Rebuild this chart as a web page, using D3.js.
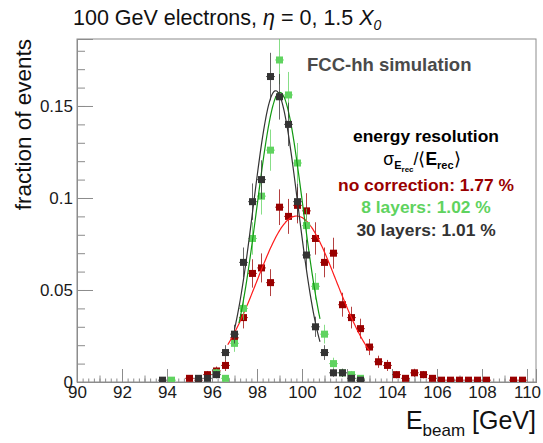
<!DOCTYPE html>
<html>
<head>
<meta charset="utf-8">
<script src="https://cdn.jsdelivr.net/npm/d3@7"></script>
<style>
  html, body { margin: 0; padding: 0; background: #fff; }
  svg { display: block; font-family: "Liberation Sans", Arial, Helvetica, sans-serif; }
</style>
</head>
<body>
<div id="chart"></div>
<script>
// Reconstructed energy distributions, 100 GeV electrons

// no correction
const noCorrE = [95.0, 95.4, 95.8, 96.2, 96.6, 97.0, 97.4, 97.8, 98.2, 98.6, 99.0, 99.4, 99.8, 100.2, 100.6, 101.0, 101.4, 101.8,
    102.2, 102.6, 103.0, 103.4, 103.8, 104.2, 104.6, 105.0, 105.4, 105.8, 106.2, 106.6, 107.0, 107.4, 107.8, 108.2, 109.4, 109.8];
const noCorrV = [0.002, 0.001, 0.004, 0.006, 0.009, 0.024, 0.035, 0.059, 0.062, 0.054, 0.095, 0.090, 0.096, 0.093, 0.078, 0.065, 0.070, 0.042,
    0.035, 0.029, 0.019, 0.011, 0.009, 0.004, 0.002, 0.005, 0.004, 0.002, 0.001, 0.001, 0.001, 0.001, 0.001, 0.001, 0.001, 0.001];
const noCorrErr = [0.0014, 0.001, 0.002, 0.0024, 0.003, 0.0049, 0.0059, 0.0077, 0.0079, 0.0073, 0.0097, 0.0095, 0.0098, 0.0096, 0.0088, 0.0081, 0.0084, 0.0065,
    0.0059, 0.0054, 0.0044, 0.0033, 0.003, 0.002, 0.0014, 0.0022, 0.002, 0.0014, 0.001, 0.001, 0.001, 0.001, 0.001, 0.001, 0.001, 0.001];

// 8 layers
const layers8E = [94.2, 96.2, 96.6, 97.0, 97.4, 97.8, 98.2, 98.6, 99.0, 99.4, 99.8, 100.2, 100.6, 101.0, 101.4, 101.8, 102.2, 102.6];
const layers8V = [0.001, 0.005, 0.002, 0.021, 0.040, 0.078, 0.101, 0.126, 0.175, 0.156, 0.119, 0.085, 0.052, 0.026, 0.010, 0.005, 0.004, 0.002];
const layers8Err = [0.001, 0.0022, 0.0014, 0.0046, 0.0063, 0.0088, 0.01, 0.0112, 0.0132, 0.0125, 0.0109, 0.0092, 0.0072, 0.0051, 0.0032, 0.0022, 0.002, 0.0014];

// 30 layers
const layers30E = [93.8, 95.4, 95.8, 96.2, 96.6, 97.0, 97.4, 97.8, 98.2, 98.6, 99.0, 99.4, 99.8, 100.2, 100.6, 101.0, 101.4, 101.8, 102.2, 102.6];
const layers30V = [0.001, 0.002, 0.002, 0.004, 0.016, 0.026, 0.065, 0.098, 0.110, 0.166, 0.155, 0.140, 0.098, 0.069, 0.030, 0.016, 0.005, 0.005, 0.002, 0.001];
const layers30Err = [0.001, 0.0014, 0.0014, 0.002, 0.004, 0.0051, 0.0081, 0.0099, 0.0105, 0.0129, 0.0124, 0.0118, 0.0099, 0.0083, 0.0055, 0.004, 0.0022, 0.0022, 0.0014, 0.001];

// gaussian fits: [no correction, 8 layers, 30 layers]
const fitAmp = [0.0902, 0.1574, 0.1583];
const fitMean = [99.76, 99.02, 98.83];
const fitSigma = [1.77, 1.02, 0.99];
const fitFrom = [96.7, 97.2, 97.0];
const fitTo = [103.0, 100.8, 100.8];

// axis ticks
const xMajor = [90, 92, 94, 96, 98, 100, 102, 104, 106, 108, 110];
const yMajor = [0, 0.05, 0.1, 0.15];
const yTickLabels = ['0', '0.05', '0.1', '0.15'];

const legendLines = ['energy resolution', 'no correction: 1.77 %', '8 layers: 1.02 %', '30 layers: 1.01 %'];

const width = 543;
const height = 443;
const margin = { top: 39, right: 7, bottom: 61, left: 77 };

const svg = d3.select('#chart')
    .append('svg')
    .attr('width', width)
    .attr('height', height);

const xScale = d3.scaleLinear().domain([90, 110.4]).range([margin.left, width - margin.right]);
const yScale = d3.scaleLinear().domain([0, 0.1864]).range([height - margin.bottom, margin.top]);

const frameColor = '#8c8c8c';

// Frame
svg.append('rect')
    .attr('x', margin.left)
    .attr('y', margin.top)
    .attr('width', width - margin.left - margin.right)
    .attr('height', height - margin.top - margin.bottom)
    .attr('fill', 'none')
    .attr('stroke', frameColor);

// X axis: primary, secondary, tertiary ticks (pointing inside)
const xRange = d3.range(90, 110.4, 0.25);
const bottomY = height - margin.bottom;

const xAxisMinor = svg.append('g')
    .attr('transform', `translate(0,${bottomY})`)
    .call(d3.axisBottom(xScale).tickValues(xRange).tickSize(-3.5).tickFormat(''));
const xAxisMid = svg.append('g')
    .attr('transform', `translate(0,${bottomY})`)
    .call(d3.axisBottom(xScale).tickValues(d3.range(91, 110, 2)).tickSize(-6.5).tickFormat(''));
const xAxis = svg.append('g')
    .attr('transform', `translate(0,${bottomY})`)
    .call(d3.axisBottom(xScale).tickValues(xMajor).tickSize(-13).tickPadding(4).tickFormat(d3.format('d')));

// Y axis
const yAxisMinor = svg.append('g')
    .attr('transform', `translate(${margin.left},0)`)
    .call(d3.axisLeft(yScale).tickValues(d3.range(0, 0.186, 0.01)).tickSize(-8).tickFormat(''));
const yAxis = svg.append('g')
    .attr('transform', `translate(${margin.left},0)`)
    .call(d3.axisLeft(yScale).tickValues(yMajor).tickSize(-16).tickPadding(4)
        .tickFormat((d, i) => yTickLabels[i]));

[xAxisMinor, xAxisMid, xAxis, yAxisMinor, yAxis].forEach(g => {
    g.select('.domain').attr('stroke', frameColor);
    g.selectAll('.tick line').attr('stroke', frameColor);
    g.selectAll('.tick text')
        .attr('fill', '#1a1a1a')
        .style('font-size', '17px')
        .style('font-family', '"Liberation Sans", Arial, sans-serif');
});

// Clip plotting area
svg.append('clipPath')
    .attr('id', 'plot-clip')
    .append('rect')
    .attr('x', margin.left)
    .attr('y', margin.top)
    .attr('width', width - margin.left - margin.right)
    .attr('height', height - margin.top - margin.bottom);

const plot = svg.append('g').attr('clip-path', 'url(#plot-clip)');

// Draw one series with error bars and its fit
function drawSeries(es, vs, errs, fitIdx, markerColor, lineColor) {
    const pts = es.map((e, i) => ({ e: e, v: vs[i], err: errs[i] }));
    const g = plot.append('g');

    g.selectAll('.vbar')
        .data(pts)
        .enter()
        .append('line')
        .attr('x1', d => xScale(d.e))
        .attr('x2', d => xScale(d.e))
        .attr('y1', d => yScale(d.v - d.err))
        .attr('y2', d => yScale(d.v + d.err))
        .attr('stroke', markerColor)
        .attr('stroke-opacity', 0.75);

    g.selectAll('.hbar')
        .data(pts)
        .enter()
        .append('line')
        .attr('x1', d => xScale(d.e - 0.2))
        .attr('x2', d => xScale(d.e + 0.2))
        .attr('y1', d => yScale(d.v))
        .attr('y2', d => yScale(d.v))
        .attr('stroke', markerColor)
        .attr('stroke-opacity', 0.75);

    g.selectAll('.marker')
        .data(pts)
        .enter()
        .append('rect')
        .attr('x', d => xScale(d.e) - 3.5)
        .attr('y', d => yScale(d.v) - 3.5)
        .attr('width', 7)
        .attr('height', 7)
        .attr('fill', markerColor);

    // Gaussian fit curve
    const fx = d3.range(fitFrom[fitIdx], fitTo[fitIdx] + 1e-9, 0.05);
    const gauss = e => fitAmp[fitIdx] * Math.exp(-0.5 * Math.pow((e - fitMean[fitIdx]) / fitSigma[fitIdx], 2));
    const line = d3.line()
        .x(e => xScale(e))
        .y(e => yScale(gauss(e)))
        .curve(d3.curveMonotoneX);

    g.append('path')
        .datum(fx)
        .attr('fill', 'none')
        .attr('stroke', lineColor)
        .attr('stroke-width', 1.2)
        .attr('d', line);
}

drawSeries(noCorrE, noCorrV, noCorrErr, 0, '#990000', '#ff1a1a');
drawSeries(layers8E, layers8V, layers8Err, 1, '#5fd35f', '#119911');
drawSeries(layers30E, layers30V, layers30Err, 2, '#333333', '#333333');

// Title
const title = svg.append('text')
    .attr('x', 73)
    .attr('y', 25)
    .attr('fill', '#111')
    .style('font-size', '21.5px');
title.append('tspan').text('100 GeV electrons, ');
title.append('tspan').style('font-style', 'italic').text('η');
title.append('tspan').text(' = 0, 1.5 ');
title.append('tspan').style('font-style', 'italic').text('X');
title.append('tspan').style('font-style', 'italic').style('font-size', '14px').attr('dy', 5).text('0');

// Axis titles
svg.append('text')
    .attr('transform', 'translate(31,39) rotate(-90)')
    .attr('text-anchor', 'end')
    .attr('fill', '#111')
    .style('font-size', '22.5px')
    .text('fraction of events');

const xTitle = svg.append('text')
    .attr('x', 536)
    .attr('y', 429)
    .attr('text-anchor', 'end')
    .attr('fill', '#111')
    .style('font-size', '25px');
xTitle.append('tspan').text('E');
xTitle.append('tspan').style('font-size', '17px').attr('dy', 7).text('beam');
xTitle.append('tspan').attr('dy', -7).text(' [GeV]');

// Labels
svg.append('text')
    .attr('x', 307)
    .attr('y', 71)
    .attr('fill', '#4a4a4a')
    .style('font-size', '18.5px')
    .style('font-weight', 'bold')
    .text('FCC-hh simulation');

const legendX = 426;
svg.append('text')
    .attr('x', legendX).attr('y', 142)
    .attr('text-anchor', 'middle')
    .attr('fill', '#000')
    .style('font-size', '17.4px').style('font-weight', 'bold')
    .text(legendLines[0]);

const sig = svg.append('text')
    .attr('x', 422).attr('y', 165)
    .attr('text-anchor', 'middle')
    .attr('fill', '#000')
    .style('font-size', '17.5px');
sig.append('tspan').text('σ');
sig.append('tspan').style('font-size', '11px').style('font-weight', 'bold').attr('dy', 4).text('E');
sig.append('tspan').style('font-size', '8px').style('font-weight', 'bold').attr('dy', 3).text('rec');
sig.append('tspan').attr('dy', -7).text('/⟨');
sig.append('tspan').style('font-weight', 'bold').text('E');
sig.append('tspan').style('font-size', '11px').style('font-weight', 'bold').attr('dy', 4).text('rec');
sig.append('tspan').attr('dy', -4).text('⟩');

const legendColors = ['#990000', '#5fd35f', '#333333'];
const legendY = [191, 213, 236];
legendLines.slice(1).forEach((t, i) => {
    svg.append('text')
        .attr('x', legendX).attr('y', legendY[i])
        .attr('text-anchor', 'middle')
        .attr('fill', legendColors[i])
        .style('font-size', '17.4px').style('font-weight', 'bold')
        .text(t);
});
</script>
</body>
</html>
